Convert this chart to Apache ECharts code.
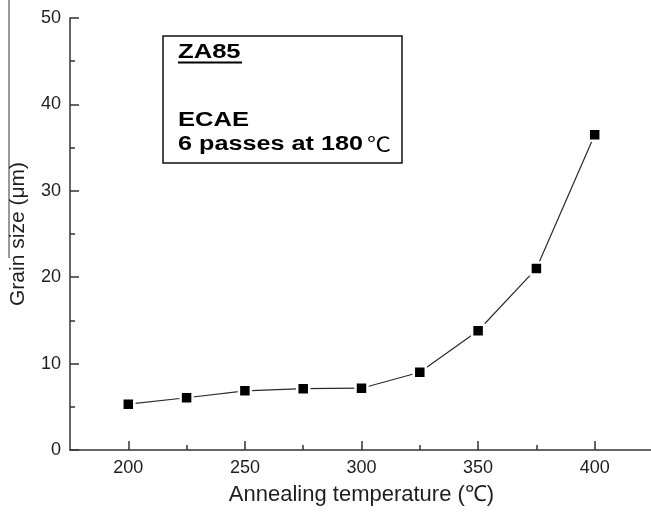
<!DOCTYPE html>
<html>
<head>
<meta charset="utf-8">
<script src="https://cdn.jsdelivr.net/npm/echarts@6/dist/echarts.min.js"></script>
<style>html,body{margin:0;padding:0;background:#fff;}#c{width:651px;height:512px;}</style>
</head>
<body>
<div id="c"></div>
<script>
const temperatures = [200, 225, 250, 275, 300, 325, 350, 375, 400];
const grainSizes = [5.3, 6.05, 6.85, 7.1, 7.15, 9.0, 13.8, 21.0, 36.5];
const xMajorTicks = [200, 250, 300, 350, 400];
const xMinorTicks = [225, 275, 325, 375];
const xName = 'Annealing temperature (℃)';
const yName = 'Grain size (μm)';
const boxTitle = 'ZA85';
const boxLine1 = 'ECAE';
const boxLine2 = '6 passes at 180';
const boxUnit = '℃';

const chart = echarts.init(document.getElementById('c'), null, {renderer: 'canvas'});
const labelColor = '#1e1e1e';
const axisColor = '#333';
const fontFam = "'Liberation Sans', Arial, sans-serif";

chart.setOption({
  animation: false,
  backgroundColor: '#fff',
  grid: {left: 70, right: -2, top: 18, bottom: 62, containLabel: false, outerBoundsMode: 'none'},
  xAxis: [{
    type: 'value', min: 175, max: 425, interval: 25,
    name: xName, nameLocation: 'middle', nameGap: 34,
    nameTextStyle: {fontSize: 22, color: labelColor, fontFamily: fontFam},
    axisLine: {show: true, lineStyle: {color: axisColor, width: 1.5}},
    axisTick: {show: true, inside: true, length: 9, customValues: xMajorTicks, lineStyle: {color: axisColor, width: 1.5}},
    axisLabel: {show: true, customValues: xMajorTicks, fontSize: 18, color: labelColor, margin: 9, fontFamily: fontFam},
    splitLine: {show: false}
  }, {
    type: 'value', min: 175, max: 425, interval: 25, position: 'bottom',
    axisLine: {show: false},
    axisTick: {show: true, inside: true, length: 5, customValues: xMinorTicks, lineStyle: {color: axisColor, width: 1.5}},
    axisLabel: {show: false},
    splitLine: {show: false}
  }],
  yAxis: {
    type: 'value', min: 0, max: 50, interval: 10,
    name: yName, nameLocation: 'middle', nameGap: 41,
    nameTextStyle: {fontSize: 21, color: labelColor, fontFamily: fontFam},
    axisLine: {show: true, lineStyle: {color: axisColor, width: 1.5}},
    axisTick: {show: true, inside: true, length: 9, lineStyle: {color: axisColor, width: 1.5}},
    minorTick: {show: true, splitNumber: 2, length: 5, lineStyle: {color: axisColor, width: 1.5}},
    axisLabel: {fontSize: 18, color: labelColor, margin: 9, fontFamily: fontFam},
    splitLine: {show: false}
  },
  series: [{
    type: 'line',
    data: temperatures.map((t, i) => [t, grainSizes[i]]),
    symbol: 'rect', symbolSize: 12,
    lineStyle: {color: '#2a2a2a', width: 1.2},
    itemStyle: {color: '#000', borderColor: '#fff', borderWidth: 2.5},
    z: 3
  }],
  graphic: [
    {type: 'line', shape: {x1: 9, y1: 0, x2: 9, y2: 258}, style: {stroke: '#333', lineWidth: 1}},
    {type: 'rect', shape: {x: 163, y: 36, width: 239, height: 127}, style: {fill: '#fff', stroke: '#111', lineWidth: 1.5}},
    {type: 'text', x: 178, y: 52.5, scaleX: 1.28, style: {text: boxTitle, font: "bold 20px 'Liberation Sans', Arial", fill: '#000', textVerticalAlign: 'middle'}},
    {type: 'line', shape: {x1: 178, y1: 62.5, x2: 242, y2: 62.5}, style: {stroke: '#000', lineWidth: 2}},
    {type: 'text', x: 178, y: 120.5, scaleX: 1.28, style: {text: boxLine1, font: "bold 20px 'Liberation Sans', Arial", fill: '#000', textVerticalAlign: 'middle'}},
    {type: 'text', x: 178, y: 144.5, scaleX: 1.26, style: {text: boxLine2, font: "bold 20px 'Liberation Sans', Arial", fill: '#000', textVerticalAlign: 'middle'}},
    {type: 'text', x: 367, y: 144, scaleX: 1.2, style: {text: boxUnit, font: "20px 'Noto Sans CJK SC'", fill: '#000', textVerticalAlign: 'middle'}}
  ]
});
</script>
</body>
</html>
